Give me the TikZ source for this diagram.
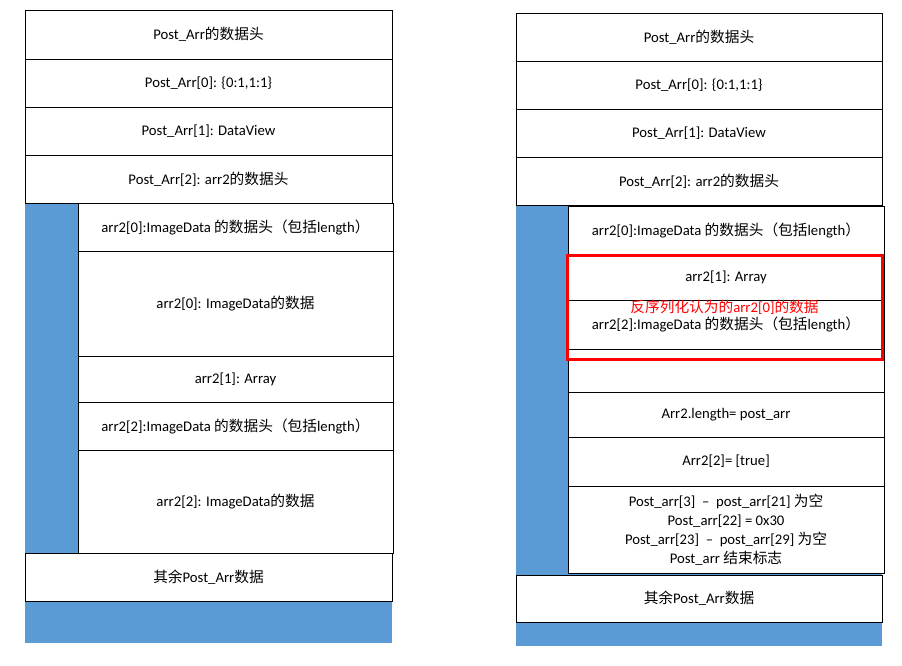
\documentclass[tikz,border=0pt]{standalone}
\usepackage{fontspec}
\setmainfont{Carlito}
\newfontfamily\cjk{Noto Sans CJK SC}
\definecolor{arrblue}{HTML}{5B9BD5}
\tikzset{
  cell/.style={draw, fill=white, line width=1pt, inner sep=0pt, align=center, font=\fontsize{14.7}{19}\selectfont},
  outerrow/.style={cell, minimum width=367pt},
  innerrow/.style={cell, minimum width=315pt},
}
\begin{document}
\begin{tikzpicture}[x=1pt, y=-1pt]
\useasboundingbox (0,0) rectangle (902,665);
% left: layout of Post_Arr with arr2 inside
\fill[arrblue] (25,203) rectangle (392,643);
\node[outerrow, minimum height=49pt] (lhead) at (208.5,34.5) {Post\_Arr{\cjk 的数据头}};
\node[outerrow, minimum height=48pt] (lzero) at (208.5,83) {Post\_Arr[0]: \{0:1,1:1\}};
\node[outerrow, minimum height=48pt] (lone) at (208.5,131) {Post\_Arr[1]: DataView};
\node[outerrow, minimum height=48pt] (ltwo) at (208.5,179) {Post\_Arr[2]: arr2{\cjk 的数据头}};
\node[innerrow, minimum height=48pt] (la0head) at (235.5,227) {arr2[0]:ImageData {\cjk 的数据头（包括}length{\cjk ）}};
\node[innerrow, minimum height=105pt] (la0data) at (235.5,303.5) {arr2[0]: ImageData{\cjk 的数据}};
\node[innerrow, minimum height=46pt] (la1) at (235.5,379) {arr2[1]: Array};
\node[innerrow, minimum height=48pt] (la2head) at (235.5,426) {arr2[2]:ImageData {\cjk 的数据头（包括}length{\cjk ）}};
\node[innerrow, minimum height=103pt] (la2data) at (235.5,501.5) {arr2[2]: ImageData{\cjk 的数据}};
\node[outerrow, minimum height=48pt] (lrest) at (208.5,577) {{\cjk 其余}Post\_Arr{\cjk 数据}};
% right: what the deserializer reads
\fill[arrblue] (516,205) rectangle (882,646);
\node[outerrow, minimum width=366pt, minimum height=48pt] (rhead) at (699,37) {Post\_Arr{\cjk 的数据头}};
\node[outerrow, minimum width=366pt, minimum height=48pt] (rzero) at (699,85) {Post\_Arr[0]: \{0:1,1:1\}};
\node[outerrow, minimum width=366pt, minimum height=48pt] (rone) at (699,133) {Post\_Arr[1]: DataView};
\node[outerrow, minimum width=366pt, minimum height=48pt] (rtwo) at (699,181) {Post\_Arr[2]: arr2{\cjk 的数据头}};
\node[innerrow, minimum width=316pt, minimum height=48pt] (ra0head) at (726,230) {arr2[0]:ImageData {\cjk 的数据头（包括}length{\cjk ）}};
\node[innerrow, minimum width=316pt, minimum height=46pt] (ra1) at (726,277) {arr2[1]: Array};
\node[innerrow, minimum width=316pt, minimum height=49pt] (ra2head) at (726,324.5) {arr2[2]:ImageData {\cjk 的数据头（包括}length{\cjk ）}};
\node[innerrow, minimum width=316pt, minimum height=43pt] (rgap) at (726,370.5) {};
\node[innerrow, minimum width=316pt, minimum height=45pt] (rlen) at (726,414.5) {Arr2.length= post\_arr};
\node[innerrow, minimum width=316pt, minimum height=49pt] (rtrue) at (726,461.5) {Arr2[2]= [true]};
\node[innerrow, minimum width=316pt, minimum height=87pt] (rtail) at (726,529.5) {Post\_arr[3]\ \ –\ \ post\_arr[21] {\cjk 为空}\\Post\_arr[22] = 0x30\\Post\_arr[23]\ \ –\ \ post\_arr[29] {\cjk 为空}\\Post\_arr {\cjk 结束标志}};
\node[outerrow, minimum width=366pt, minimum height=47pt] (rrest) at (699,598.5) {{\cjk 其余}Post\_Arr{\cjk 数据}};
% red frame over the misread part
\node[draw=red, line width=3pt, text=red, inner sep=0pt, minimum width=315pt, minimum height=104pt, font=\fontsize{14.7}{19}\selectfont] (misread) at (724.5,307) {{\cjk 反序列化认为的}arr2[0]{\cjk 的数据}};
\end{tikzpicture}
\end{document}
